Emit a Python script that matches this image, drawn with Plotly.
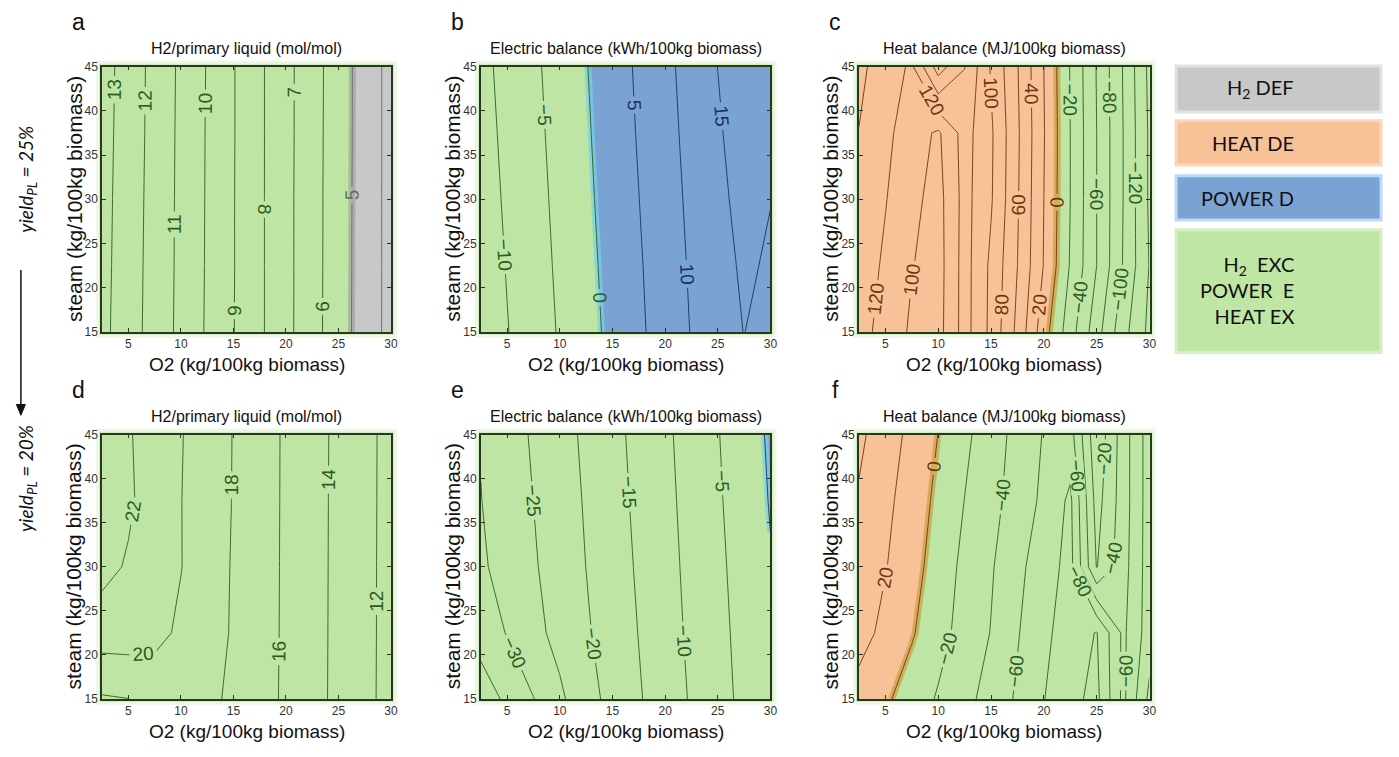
import plotly.graph_objects as go

W, H = 1399, 757

# ---------------- data ----------------
O2 = [2.5, 5, 7.5, 10, 12.5, 15, 17.5, 20, 22.5, 25, 27.5, 30]
STEAM = [15, 22.5, 30, 37.5, 45]

# H2 / primary liquid (mol/mol), yield_PL = 25 %
H2_PL_25 = [
    [13.26, 12.44, 11.61, 10.76, 9.89, 9.03, 8.16, 7.27, 6.36, 5.44, 4.55, 3.69],
    [13.30, 12.47, 11.63, 10.78, 9.91, 9.04, 8.16, 7.27, 6.37, 5.45, 4.56, 3.69],
    [13.33, 12.50, 11.65, 10.79, 9.92, 9.04, 8.16, 7.27, 6.37, 5.46, 4.56, 3.69],
    [13.37, 12.53, 11.68, 10.80, 9.93, 9.05, 8.16, 7.28, 6.38, 5.47, 4.57, 3.69],
    [13.41, 12.56, 11.70, 10.82, 9.95, 9.05, 8.16, 7.28, 6.39, 5.48, 4.57, 3.69],
]
# Electric balance (kWh/100kg biomass), yield_PL = 25 %
ELEC_25 = [
    [-12.96, -10.18, -7.39, -4.59, -1.69, 1.23, 4.17, 7.20, 10.20, 12.60, 15.10, 12.60],
    [-12.53, -9.77, -7.00, -4.20, -1.32, 1.60, 4.51, 7.56, 10.56, 13.33, 15.70, 14.45],
    [-12.10, -9.36, -6.62, -3.82, -0.93, 2.00, 4.94, 7.99, 10.98, 13.85, 16.50, 15.10],
    [-11.69, -8.97, -6.24, -3.44, -0.56, 2.39, 5.37, 8.41, 11.43, 14.40, 17.40, 19.30],
    [-11.28, -8.57, -5.87, -3.05, -0.19, 2.75, 5.73, 8.78, 11.88, 15.05, 17.60, 19.60],
]
# Heat balance (MJ/100kg biomass), yield_PL = 25 %
HEAT_25 = [
    [127.6, 112.5, 97.0, 93.0, 128.0, 95.0, 55.0, 8.0, -31.0, -72.0, -113.0, -145.0],
    [131.8, 116.6, 100.8, 92.0, 128.0, 96.0, 60.0, 19.0, -21.5, -60.0, -101.0, -141.0],
    [136.0, 121.0, 104.9, 93.0, 127.0, 102.0, 62.0, 20.0, -20.0, -60.0, -100.0, -143.0],
    [139.5, 124.9, 109.3, 97.0, 128.0, 103.0, 63.0, 21.0, -20.0, -60.0, -100.0, -143.0],
    [144.9, 129.6, 117.0, 170.0, 140.5, 98.0, 61.0, 20.0, -21.0, -61.0, -101.0, -145.0],
]
# H2 / primary liquid (mol/mol), yield_PL = 20 %
H2_PL_20 = [
    [17.80, 17.98, 18.80, 18.90, 18.50, 17.60, 16.75, 15.70, 14.63, 13.55, 12.47, 11.38],
    [20.97, 21.00, 20.53, 19.70, 18.90, 17.80, 16.80, 15.72, 14.65, 13.56, 12.48, 11.40],
    [22.60, 21.80, 20.90, 20.05, 18.95, 17.85, 16.82, 15.73, 14.66, 13.57, 12.49, 11.40],
    [23.10, 22.30, 21.08, 20.04, 19.00, 17.92, 16.84, 15.74, 14.67, 13.58, 12.50, 11.41],
    [23.20, 22.17, 21.13, 20.10, 19.03, 17.94, 16.85, 15.75, 14.68, 13.60, 12.51, 11.42],
]
# Electric balance (kWh/100kg biomass), yield_PL = 20 %
ELEC_20 = [
    [-37.80, -33.98, -30.12, -25.86, -21.88, -18.45, -15.43, -12.48, -9.55, -6.70, -3.86, -1.00],
    [-32.90, -29.74, -26.40, -23.49, -20.57, -17.73, -14.88, -11.98, -9.11, -6.33, -3.52, -0.68],
    [-30.74, -28.10, -25.50, -22.75, -19.95, -17.22, -14.42, -11.59, -8.76, -5.96, -3.13, -0.30],
    [-30.10, -27.56, -24.96, -22.26, -19.56, -16.78, -14.00, -11.22, -8.41, -5.57, -2.66, 0.27],
    [-29.75, -27.10, -24.45, -21.80, -19.12, -16.38, -13.63, -10.87, -8.06, -5.22, -2.28, 0.67],
]
# Heat balance (MJ/100kg biomass), yield_PL = 20 %
HEAT_20 = [
    [12.0, 3.0, -9.3, -22.0, -34.1, -47.6, -62.7, -79.4, -95.0, -105.0, -55.0, -105.0],
    [28.0, 14.5, 1.9, -13.0, -27.2, -40.7, -58.6, -75.3, -90.0, -101.0, -56.0, -90.0],
    [36.0, 21.0, 7.2, -8.5, -24.9, -38.1, -54.7, -71.3, -86.0, -19.0, -52.0, -90.0],
    [38.0, 24.8, 10.6, -4.4, -20.3, -33.5, -49.0, -64.0, -84.0, -12.0, -50.0, -90.0],
    [44.0, 29.5, 14.8, -0.3, -15.8, -30.9, -46.0, -61.2, -68.0, -5.0, -50.0, -90.0],
]

TITLES = ["H2/primary liquid (mol/mol)",
          "Electric balance (kWh/100kg biomass)",
          "Heat balance (MJ/100kg biomass)"]
LETTERS = ["a", "b", "c", "d", "e", "f"]
X_TICKS = [5, 10, 15, 20, 25, 30]
Y_TICKS = [15, 20, 25, 30, 35, 40, 45]
X_TITLE = "O2 (kg/100kg biomass)"
Y_TITLE = "steam (kg/100kg biomass)"
LEGEND_LABELS = ["H<sub>2</sub> DEF", "HEAT DE", "POWER D",
                 "H<sub>2</sub>  EXC<br>POWER  E<br>HEAT EX"]
YIELD_LABELS = ["25%", "20%"]

# ---------------- styles ----------------
GREEN_FILL = "rgb(191,230,165)"
GRAY_FILL = "rgb(200,200,200)"
ORANGE_FILL = "rgb(248,194,152)"
BLUE_FILL = "rgb(122,163,212)"
GREEN_LINE = "rgb(42,92,32)"
GRAY_LINE = "rgb(105,105,105)"
BROWN_LINE = "rgb(112,52,12)"
BLUE_LINE = "rgb(24,50,100)"
FRAME = "rgb(40,55,30)"
FONT = "Liberation Sans, Arial, sans-serif"
FONT2 = "Lato, Open Sans, sans-serif"

COLS = [(102.6, 393.0), (483.3, 774.3), (863.3, 1155.3)]
ROWS = [(60.7, 331.0), (435.7, 705.0)]


def fx(p):
    return p / W


def fy(p):
    return 1 - p / H


# constraint op keeps that side and shades the other side
panels = [
    dict(z=H2_PL_25, start=4, end=13, size=1, split=5.5, lo=GRAY_LINE, hi=GREEN_LINE,
         region=(">", 5, GRAY_FILL, "rgba(150,150,150,0.55)")),
    dict(z=ELEC_25, start=-10, end=15, size=5, split=2.5, lo=GREEN_LINE, hi=BLUE_LINE,
         region=("<", 0, BLUE_FILL, "rgba(120,210,230,0.7)")),
    dict(z=HEAT_25, start=-140, end=160, size=20, split=-10, lo=GREEN_LINE, hi=BROWN_LINE,
         region=("<", 0, ORANGE_FILL, "rgba(200,150,50,0.6)")),
    dict(z=H2_PL_20, start=12, end=22, size=2, split=None, lo=GREEN_LINE, hi=GREEN_LINE,
         region=None),
    dict(z=ELEC_20, start=-35, end=0, size=5, split=-2.5, lo=GREEN_LINE, hi=BLUE_LINE,
         region=("<", 0, BLUE_FILL, "rgba(120,210,230,0.7)")),
    dict(z=HEAT_20, start=-100, end=40, size=20, split=-10, lo=GREEN_LINE, hi=BROWN_LINE,
         region=("<", 0, ORANGE_FILL, "rgba(200,150,50,0.6)")),
]

fig = go.Figure()
shapes = []
annotations = []
layout_axes = {}

for i, p in enumerate(panels):
    r, c = divmod(i, 3)
    n = "" if i == 0 else str(i + 1)
    xref, yref = "x" + n, "y" + n
    x0, x1 = COLS[c]
    y0, y1 = ROWS[r]

    if p["region"] is not None:
        op, val, fill, glow = p["region"]
        fig.add_trace(go.Contour(
            x=O2, y=STEAM, z=p["z"],
            contours=dict(type="constraint", operation=op, value=val),
            fillcolor=fill, line=dict(color=glow, width=7, smoothing=0),
            showscale=False, hoverinfo="skip", xaxis=xref, yaxis=yref))

    if p["split"] is None:
        cs = [[0, p["lo"]], [1, p["hi"]]]
    else:
        f = (p["split"] - p["start"]) / (p["end"] - p["start"])
        cs = [[0, p["lo"]], [f, p["lo"]], [f, p["hi"]], [1, p["hi"]]]
    fig.add_trace(go.Contour(
        x=O2, y=STEAM, z=p["z"],
        zmin=p["start"], zmax=p["end"], colorscale=cs, showscale=False,
        contours=dict(start=p["start"], end=p["end"], size=p["size"],
                      coloring="lines", showlabels=True,
                      labelfont=dict(size=19, family=FONT)),
        line=dict(width=0.9, smoothing=0),
        hoverinfo="skip", xaxis=xref, yaxis=yref))

    layout_axes["xaxis" + n] = dict(
        domain=[fx(x0), fx(x1)], range=[2.5, 30], anchor=yref,
        tickvals=X_TICKS, ticks="inside", ticklen=4, tickcolor=FRAME,
        showline=True, linecolor=FRAME, linewidth=1.6, mirror="ticks",
        showgrid=False, zeroline=False,
        tickfont=dict(size=12, family=FONT, color="#333"))
    layout_axes["yaxis" + n] = dict(
        domain=[fy(y1), fy(y0)], range=[15, 45], anchor=xref,
        tickvals=Y_TICKS, ticks="inside", ticklen=4, tickcolor=FRAME,
        showline=True, linecolor=FRAME, linewidth=1.6, mirror="ticks",
        showgrid=False, zeroline=False,
        tickfont=dict(size=12, family=FONT, color="#333"))

    # soft halo around each panel
    for pad, alpha in ((6, 0.3), (3, 0.55)):
        shapes.append(dict(type="rect", xref="paper", yref="paper", layer="below",
                           x0=fx(x0 - pad), x1=fx(x1 + pad), y0=fy(y1 + pad), y1=fy(y0 - pad),
                           fillcolor=f"rgba(191,230,165,{alpha})", line=dict(width=0)))

    cx = (x0 + x1) / 2
    annotations += [
        dict(text=TITLES[c], x=fx(cx), y=fy(y0 - 18), xref="paper", yref="paper",
             showarrow=False, xanchor="center", yanchor="middle",
             font=dict(size=16, family=FONT, color="#111")),
        dict(text=X_TITLE, x=fx(cx), y=fy(y1 + 33), xref="paper", yref="paper",
             showarrow=False, xanchor="center", yanchor="middle",
             font=dict(size=19, family=FONT, color="#111")),
        dict(text=Y_TITLE, x=fx(x0 - 28.5), y=fy((y0 + y1) / 2), xref="paper", yref="paper",
             showarrow=False, xanchor="center", yanchor="middle", textangle=-90,
             font=dict(size=21, family=FONT, color="#111")),
        dict(text=LETTERS[i], x=fx(x0 - 24), y=fy(y0 - 45), xref="paper", yref="paper",
             showarrow=False, xanchor="center", yanchor="middle",
             font=dict(size=23, family=FONT, color="#111")),
    ]

# ---------------- legend boxes on the right ----------------
BOXES = [(60, 107, GRAY_FILL, "rgb(225,225,225)"),
         (116, 161, ORANGE_FILL, "rgb(251,214,188)"),
         (172, 217, BLUE_FILL, "rgb(185,220,250)"),
         (227, 352, GREEN_FILL, "rgb(214,240,198)")]
for (t, b, fill, edge), label in zip(BOXES, LEGEND_LABELS):
    shapes.append(dict(type="rect", xref="paper", yref="paper",
                       x0=fx(1182), x1=fx(1388), y0=fy(b), y1=fy(t),
                       fillcolor=fill, line=dict(color=edge, width=3)))
    annotations.append(dict(text=label, x=fx(1303), y=fy((t + b) / 2 - (1 if "<br>" in label else 0)),
                            xref="paper", yref="paper", showarrow=False,
                            xanchor="right", yanchor="middle", align="right",
                            font=dict(size=20, family=FONT2, color="#111")))

# ---------------- yield labels + arrow on the left ----------------
for label, yc in zip(YIELD_LABELS, (175, 480)):
    annotations.append(dict(text=f"<i>yield</i><sub><i>PL</i></sub><i> = {label}</i>",
                            x=fx(27), y=fy(yc), xref="paper", yref="paper",
                            showarrow=False, textangle=-90, xanchor="center", yanchor="middle",
                            font=dict(size=19, family=FONT2, color="#111")))
shapes.append(dict(type="line", xref="paper", yref="paper",
                   x0=fx(21), x1=fx(21), y0=fy(268), y1=fy(408),
                   line=dict(color="#111", width=1.5)))
shapes.append(dict(type="path", xref="paper", yref="paper",
                   path=f"M {fx(16.5)} {fy(405)} L {fx(25.5)} {fy(405)} L {fx(21)} {fy(416)} Z",
                   fillcolor="#111", line=dict(color="#111", width=1)))

fig.update_layout(
    width=W, height=H, margin=dict(l=0, r=0, t=0, b=0),
    paper_bgcolor="white", plot_bgcolor=GREEN_FILL,
    showlegend=False, shapes=shapes, annotations=annotations,
    **layout_axes)

fig.write_html("out.html", config={"displayModeBar": False},
               post_script="document.body.style.margin='0';")
